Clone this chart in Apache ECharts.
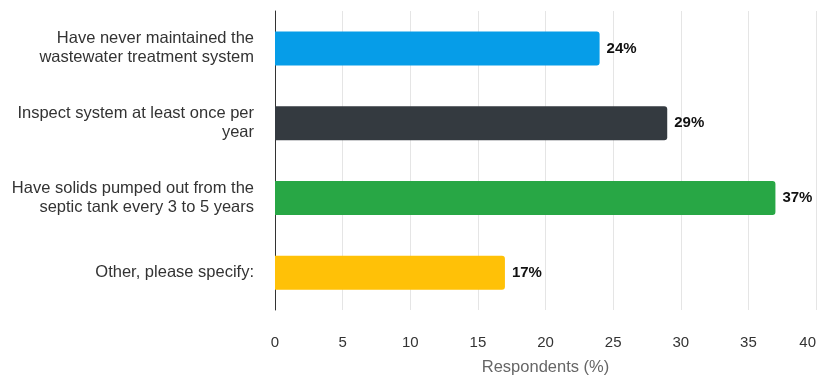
<!DOCTYPE html>
<html>
<head>
<meta charset="utf-8">
<script src="https://cdn.jsdelivr.net/npm/echarts@6/dist/echarts.min.js"></script>
<style>
html,body{margin:0;padding:0;background:#fff;}
#chart{width:818px;height:379px;}
</style>
</head>
<body>
<div id="chart"></div>
<script>
const categories = [
  "Have never maintained the\nwastewater treatment system",
  "Inspect system at least once per\nyear",
  "Have solids pumped out from the\nseptic tank every 3 to 5 years",
  "Other, please specify:"
];
const values = [24, 29, 37, 17];
const barColors = ["#069de8", "#343a40", "#28a745", "#ffc107"];
const xTicks = [0, 5, 10, 15, 20, 25, 30, 35, 40];
const axisTitle = "Respondents (%)";

const chart = echarts.init(document.getElementById('chart'));
const font = "'Liberation Sans', Arial, Helvetica, sans-serif";
chart.setOption({
  animation: false,
  grid: { left: 275, right: 2, top: 11, bottom: 69, containLabel: false, outerBoundsMode: 'none' },
  xAxis: {
    type: 'value',
    min: xTicks[0],
    max: xTicks[xTicks.length - 1],
    interval: 5,
    name: axisTitle,
    nameLocation: 'middle',
    nameGap: 49,
    nameTextStyle: { color: '#666', fontSize: 16.5, fontFamily: font },
    axisLine: { show: false },
    axisTick: { show: false },
    axisLabel: { color: '#333', fontSize: 15, fontFamily: font, margin: 25, alignMaxLabel: 'right' },
    splitLine: { show: true, lineStyle: { color: '#e5e5e5', width: 1 } }
  },
  yAxis: {
    type: 'category',
    inverse: true,
    data: categories,
    axisLine: { show: true, lineStyle: { color: '#333', width: 1 } },
    axisTick: { show: false },
    axisLabel: { color: '#333', fontSize: 16.5, fontFamily: font, margin: 21, lineHeight: 19, align: 'right', padding: [3, 0, 0, 0] }
  },
  series: [{
    type: 'bar',
    barWidth: 34,
    data: values.map((v, i) => ({ value: v, itemStyle: { color: barColors[i], borderRadius: [0, 3, 3, 0] } })),
    label: {
      show: true,
      position: 'right',
      distance: 7,
      formatter: '{c}%',
      color: '#111',
      fontWeight: 'bold',
      fontSize: 15,
      fontFamily: font
    }
  }]
});
</script>
</body>
</html>
